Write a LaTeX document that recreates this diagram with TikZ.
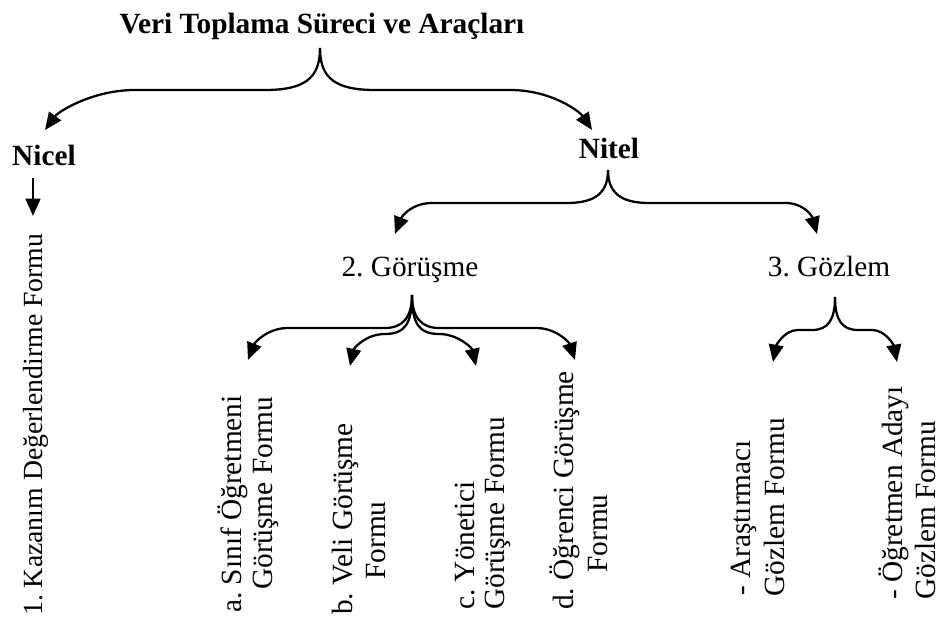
\documentclass[tikz,border=0pt]{standalone}
\usepackage{fontspec}
\setmainfont{Liberation Serif}
\usetikzlibrary{arrows.meta}

\begin{document}
\frenchspacing
\begin{tikzpicture}[x=0.75pt,y=-0.75pt,
  txt/.style={inner sep=0pt,font=\fontsize{22}{26}\selectfont},
  head/.style={txt,font=\fontsize{22}{26}\selectfont\bfseries},
  vtxt/.style={txt,rotate=90,anchor=base west},
  arr/.style={line width=1.7pt,-{Triangle[length=13pt,width=11pt]}}]
\useasboundingbox (0,0) rectangle (940,627);

% ---- headings -------------------------------------------------------
\node[head,anchor=base] (title) at (322,34) {Veri Toplama Süreci ve Araçları};
\node[head,anchor=base] (nicel) at (44,166) {Nicel};
\node[head,anchor=base] (nitel) at (609,159) {Nitel};
\node[txt,anchor=base] (gorusme) at (410,277) {2. Görüşme};
\node[txt,anchor=base] (gozlem) at (829,277) {3. Gözlem};

% ---- vertical labels --------------------------------------------------
\node[vtxt,font=\fontsize{20.8}{25}\selectfont] (kaz) at (42,616) {1. Kazanım Değerlendirme Formu};
\node[vtxt] (a1) at (241,613) {a. Sınıf Öğretmeni};
\node[vtxt] (a2) at (272,590) {Görüşme Formu};
\node[vtxt] (b1) at (352,615) {b. Veli Görüşme};
\node[vtxt] (b2) at (385,580) {Formu};
\node[vtxt] (c1) at (474,610) {c. Yönetici};
\node[vtxt] (c2) at (504,610) {Görüşme Formu};
\node[vtxt] (d1) at (573,610) {d. Öğrenci Görüşme};
\node[vtxt] (d2) at (607,573) {Formu};
\node[vtxt] (e1) at (750,596) {- Araştırmacı};
\node[vtxt] (e2) at (784,597) {Gözlem Formu};
\node[vtxt] (f1) at (902,600) {- Öğretmen Adayı};
\node[vtxt] (f2) at (935,600) {Gözlem Formu};

% ---- brace apexes and arrow ends ---------------------------------------
\coordinate (topA) at (320,48);
\coordinate (topL) at (45,130);
\coordinate (topR) at (592,130);
\coordinate (nicA) at (33,178);
\coordinate (nicT) at (33,216);
\coordinate (nitA) at (608,170);
\coordinate (nitL) at (395,234);
\coordinate (nitR) at (817,234);
\coordinate (gorA) at (412,295);
\coordinate (gorLo) at (248,360);
\coordinate (gorLi) at (350,366);
\coordinate (gorRi) at (476,366);
\coordinate (gorRo) at (575,360);
\coordinate (gozA) at (835,297);
\coordinate (gozL) at (773,362);
\coordinate (gozR) at (897,362);

% ---- main brace -------------------------------------------------------
\draw[arr] (topA) .. controls (320,78) and (305,90) .. (265,90) -- (135,90)
  .. controls (92,90) and (58,112) .. (topL);
\draw[arr] (topA) .. controls (320,78) and (335,90) .. (375,90) -- (510,90)
  .. controls (552,90) and (580,112) .. (topR);

% ---- Nicel ------------------------------------------------------------
\draw[arr] (nicA) -- (nicT);

% ---- Nitel brace --------------------------------------------------------
\draw[arr] (nitA) .. controls (608,193) and (595,203) .. (567,203) -- (432,203)
  .. controls (412,203) and (402,216) .. (nitL);
\draw[arr] (nitA) .. controls (608,193) and (621,203) .. (649,203) -- (785,203)
  .. controls (804,203) and (812,216) .. (nitR);

% ---- Görüşme braces -----------------------------------------------------
\draw[arr] (gorA) .. controls (412,318) and (402,328) .. (385,328) -- (288,328)
  .. controls (268,328) and (255,342) .. (gorLo);
\draw[arr] (gorA) .. controls (412,322) and (406,334) .. (385,334)
  .. controls (366,334) and (354,348) .. (gorLi);
\draw[arr] (gorA) .. controls (412,322) and (418,334) .. (439,334)
  .. controls (458,334) and (472,348) .. (gorRi);
\draw[arr] (gorA) .. controls (412,318) and (422,328) .. (439,328) -- (536,328)
  .. controls (556,328) and (569,342) .. (gorRo);

% ---- Gözlem brace -------------------------------------------------------
\draw[arr] (gozA) .. controls (835,320) and (828,330) .. (812,330) -- (798,330)
  .. controls (784,330) and (776,346) .. (gozL);
\draw[arr] (gozA) .. controls (835,320) and (842,330) .. (858,330) -- (872,330)
  .. controls (886,330) and (894,346) .. (gozR);
\end{tikzpicture}
\end{document}
